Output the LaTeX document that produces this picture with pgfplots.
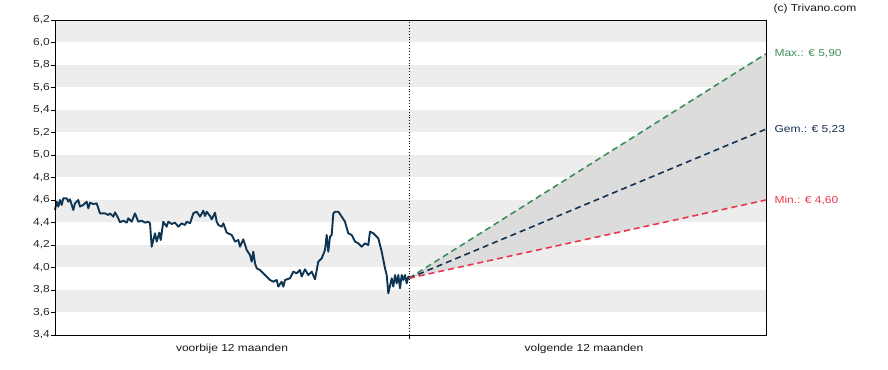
\documentclass[border=0pt]{standalone}
\usepackage{graphicx}
\usepackage{pgfplots}
\pgfplotsset{compat=1.18}
\usepackage{pgfplotstable}
\usepackage{fontspec}
\setmainfont{Liberation Sans}
\definecolor{stripe}{HTML}{EDEDED}
\definecolor{band}{HTML}{DCDCDC}
\definecolor{price}{HTML}{0E3553}
\definecolor{maxc}{HTML}{3D8F58}
\definecolor{avgc}{HTML}{14304F}
\definecolor{minc}{HTML}{E8364E}
\newcommand{\lbl}[1]{\scalebox{1.18}[1]{#1}}
\pgfplotstableread{
x v
55.0 4.511
56.7 4.585
58.3 4.541
60.0 4.600
61.7 4.556
63.3 4.615
66.7 4.615
68.3 4.585
70.0 4.606
73.3 4.511
75.0 4.570
78.3 4.600
80.0 4.541
83.3 4.556
86.7 4.585
88.3 4.526
90.0 4.576
93.3 4.564
96.7 4.570
100.0 4.481
105.0 4.481
108.3 4.467
110.0 4.481
113.3 4.452
115.0 4.490
118.3 4.437
120.0 4.402
123.3 4.416
126.7 4.399
128.3 4.437
131.7 4.407
135.0 4.481
138.3 4.407
141.7 4.416
145.0 4.399
148.3 4.407
150.0 4.393
151.7 4.185
155.0 4.304
156.7 4.230
159.3 4.310
160.7 4.244
163.3 4.407
166.7 4.363
168.3 4.407
171.7 4.387
175.0 4.399
178.3 4.363
181.7 4.393
185.0 4.378
186.7 4.407
190.0 4.393
193.3 4.481
196.7 4.496
200.0 4.452
203.3 4.505
205.0 4.458
206.7 4.496
210.0 4.458
211.7 4.428
215.0 4.487
216.7 4.407
218.3 4.378
221.7 4.363
223.3 4.393
226.7 4.310
231.7 4.289
235.0 4.230
238.3 4.244
240.0 4.185
243.3 4.250
246.7 4.156
250.0 4.111
251.7 4.052
253.3 4.141
255.0 4.037
256.7 3.993
260.0 3.978
263.3 3.948
266.7 3.919
270.0 3.889
273.3 3.874
276.7 3.889
278.3 3.830
281.7 3.874
283.3 3.830
285.0 3.889
290.0 3.904
293.3 3.963
296.7 3.948
300.0 3.978
301.7 3.919
305.0 3.984
308.3 3.933
311.7 3.963
315.0 3.895
318.3 4.052
321.7 4.081
325.0 4.156
326.7 4.289
328.3 4.141
330.0 4.274
331.7 4.289
333.3 4.481
335.0 4.496
338.3 4.496
341.7 4.452
345.0 4.407
348.3 4.304
351.7 4.289
355.0 4.230
358.3 4.215
361.7 4.185
365.0 4.215
368.3 4.200
370.0 4.319
373.3 4.304
378.3 4.259
381.7 4.141
385.0 3.993
386.7 3.933
388.3 3.770
391.7 3.904
393.3 3.830
395.0 3.933
396.7 3.859
398.3 3.933
400.0 3.815
401.7 3.933
403.3 3.889
405.0 3.933
406.7 3.859
408.3 3.919
409.0 3.904
}\pricedata
\begin{document}
\begin{tikzpicture}
\useasboundingbox (0,0) rectangle (888bp,370bp);
\begin{axis}[
  at={(55bp,35bp)}, anchor=south west,
  scale only axis, width=711bp, height=315bp,
  xmin=55, xmax=766, ymin=3.4, ymax=6.2,
  axis line style={black, line width=0.9pt},
  ytick={3.4,3.6,...,6.21},
  ytick pos=left, xtick pos=bottom,
  tick align=outside, major tick length=4bp,
  tick style={black, line width=0.9pt},
  xtick={409}, xticklabels={},
  yticklabel style={font=\fontsize{10.2}{12}\selectfont, text=black!85, inner xsep=1pt},
  yticklabel={\lbl{\pgfmathprintnumber{\tick}}},
  /pgf/number format/.cd, use comma, fixed, fixed zerofill, precision=1, assume math mode=true,
  /pgfplots/.cd,
  clip=false,
  axis on top,
]
\pgfplotsinvokeforeach{3.6,4.0,4.4,4.8,5.2,5.6,6.0}{
  \addplot[fill=stripe, draw=none] coordinates {(55,#1) (766,#1) (766,#1+0.2) (55,#1+0.2)} -- cycle;
}
\addplot[fill=band, draw=none] coordinates {(409,3.905) (766,5.90) (766,4.60)} -- cycle;
\draw[black, dotted, line width=0.9pt] (axis cs:409,3.4) -- (axis cs:409,6.2);
\addplot[price, line width=1.9pt, line join=round, mark=none] table[x=x,y=v] {\pricedata};
\addplot[maxc, line width=1.6pt, dash pattern=on 6bp off 4bp] coordinates {(409,3.905) (766,5.90)};
\addplot[avgc, line width=1.6pt, dash pattern=on 6bp off 4bp] coordinates {(409,3.905) (766,5.23)};
\addplot[minc, line width=1.6pt, dash pattern=on 6bp off 4bp] coordinates {(409,3.905) (766,4.60)};
\node[font=\fontsize{10.2}{12}\selectfont, text=maxc, anchor=west] at (axis cs:771,5.90) {\lbl{Max.: € 5,90}};
\node[font=\fontsize{10.2}{12}\selectfont, text=avgc, anchor=west] at (axis cs:771,5.23) {\lbl{Gem.: € 5,23}};
\node[font=\fontsize{10.2}{12}\selectfont, text=minc, anchor=west] at (axis cs:771,4.60) {\lbl{Min.: € 4,60}};
\node[font=\fontsize{10.2}{12}\selectfont, text=black!90, anchor=west] at (axis cs:770,6.30) {\lbl{(c) Trivano.com}};
\node[font=\fontsize{10.2}{12}\selectfont, text=black!90] at (axis cs:232,3.276) {\lbl{voorbije 12 maanden}};
\node[font=\fontsize{10.2}{12}\selectfont, text=black!90] at (axis cs:584,3.276) {\lbl{volgende 12 maanden}};
\end{axis}
\end{tikzpicture}
\end{document}
